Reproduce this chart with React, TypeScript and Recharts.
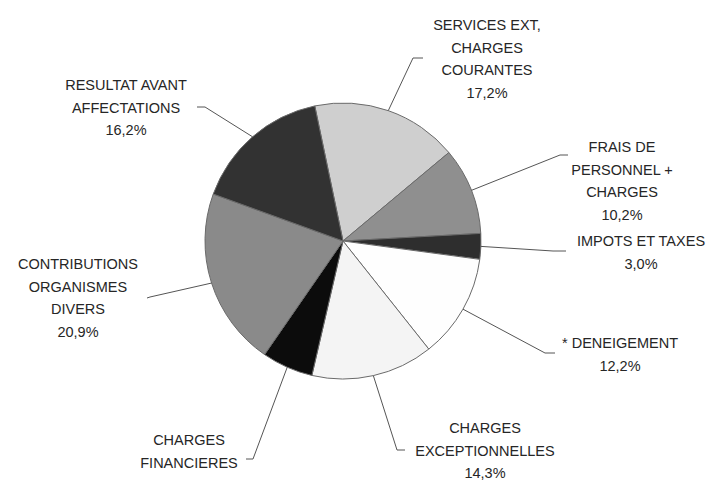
import React from "react";
import { Cell, Pie, PieChart } from "recharts";

// slice order, clockwise from just left of 12 o'clock
const CATEGORIES = [
  ["SERVICES EXT,", "CHARGES", "COURANTES"],
  ["FRAIS DE", "PERSONNEL +", "CHARGES"],
  ["IMPOTS ET TAXES"],
  ["* DENEIGEMENT"],
  ["CHARGES", "EXCEPTIONNELLES"],
  ["CHARGES", "FINANCIERES"],
  ["CONTRIBUTIONS", "ORGANISMES", "DIVERS"],
  ["RESULTAT AVANT", "AFFECTATIONS"]
];
const SHARES = [17.2, 10.2, 3.0, 12.2, 14.3, 6.0, 20.9, 16.2];

const FILLS = ["#cfcfcf", "#8f8f8f", "#2e2e2e", "#fefefe", "#f4f4f4", "#0c0c0c", "#8a8a8a", "#323232"];

// label layout, offsets from pie centre: leader elbow, leader end, text centre x, first line y
const LAYOUT = [
  { elbow: [70, -183], end: [80, -183], tx: 144, ty: -216 },
  { elbow: [217, -86], end: [225, -86], tx: 279, ty: -94 },
  { elbow: [210, 10], end: [223, 10], tx: 298, ty: 0 },
  { elbow: [202, 112], end: [212, 112], tx: 277, ty: 102 },
  { elbow: [54, 209], end: [62, 209], tx: 142, ty: 187 },
  { elbow: [-90, 218], end: [-97, 218], tx: -154, ty: 199 },
  { elbow: [-193, 56], end: [-196, 57], tx: -265, ty: 23 },
  { elbow: [-138, -134], end: [-146, -134], tx: -217, ty: -156 }
];

const rows = SHARES.map((value, i) => ({ name: CATEGORIES[i].join(" "), value }));
const RAD = Math.PI / 180;
const LINE_H = 22.5;

function renderLabel(props: any) {
  const { cx, cy, midAngle, outerRadius, index, value } = props;
  const l = LAYOUT[index];
  const sx = cx + outerRadius * Math.cos(-midAngle * RAD);
  const sy = cy + outerRadius * Math.sin(-midAngle * RAD);
  const lines = [...CATEGORIES[index], value.toFixed(1).replace(".", ",") + "%"];
  return (
    <g key={`lbl-${index}`}>
      <polyline
        points={`${sx},${sy} ${cx + l.elbow[0]},${cy + l.elbow[1]} ${cx + l.end[0]},${cy + l.end[1]}`}
        fill="none"
        stroke="#555"
        strokeWidth={1}
      />
      <text
        x={cx + l.tx}
        y={cy + l.ty}
        textAnchor="middle"
        dominantBaseline="central"
        fill="#262626"
        fontSize={14.5}
        fontFamily="'Liberation Sans', Arial, sans-serif"
      >
        {lines.map((t, k) => (
          <tspan key={k} x={cx + l.tx} y={cy + l.ty + k * LINE_H}>
            {t}
          </tspan>
        ))}
      </text>
    </g>
  );
}

export default function App() {
  return (
    <div style={{ position: "absolute", left: 0, top: 0, width: 711, height: 480, background: "#fff" }}>
      <PieChart width={711} height={480} margin={{ top: 0, right: 0, bottom: 0, left: 0 }}>
        <Pie
          data={rows}
          dataKey="value"
          nameKey="name"
          cx={343}
          cy={241}
          outerRadius={138}
          startAngle={101.8}
          endAngle={-258.2}
          stroke="#6a6a6a"
          strokeWidth={1}
          label={renderLabel}
          labelLine={false}
          isAnimationActive={false}
        >
          {rows.map((_, i) => (
            <Cell key={`cell-${i}`} fill={FILLS[i]} />
          ))}
        </Pie>
      </PieChart>
    </div>
  );
}
